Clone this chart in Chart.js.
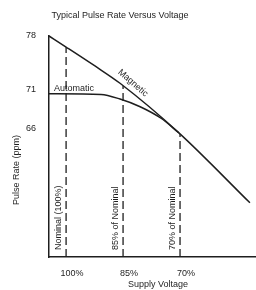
<!DOCTYPE html>
<html>
<head>
<meta charset="utf-8">
<style>
  html, body { margin: 0; padding: 0; background: #fff; }
  #chart { display: block; }
</style>
</head>
<body>
<canvas id="chart" width="256" height="290"></canvas>
<script src="https://cdn.jsdelivr.net/npm/chart.js@4/dist/chart.umd.min.js"></script>
<script>
// supply voltage in % of nominal, pulse rate in ppm
const magneticVolts = [104.5, 100.1, 92.4, 85.8, 70.3, 51.6];
const magneticRate = [78, 76.6, 74.1, 71.85, 65.4, 56.3];
const automaticVolts = [104.5, 90.8, 85.8, 80.5, 75.0, 70.3];
const automaticRate = [70.5, 70.4, 69.8, 68.8, 67.3, 65.4];
// dashed reference lines
const markVolts = [100, 85, 70];
const markRate = [76.55, 71.5, 65.25];
const markLabels = ['Nominal (100%)', '85% of Nominal', '70% of Nominal'];
// tick labels
const xTicks = [100, 85, 70];
const yTicks = [66, 71, 78];
const xMin = 50, xMax = 104.5, yMin = 49.25, yMax = 78;

const ink = '#1e1e1e';
const fontFamily = '"Liberation Sans", Arial, sans-serif';

const toPoints = (xs, ys) => xs.map((x, i) => ({ x: x, y: ys[i] }));

const lineStyle = {
  borderColor: ink,
  borderWidth: 1.5,
  pointRadius: 0,
  fill: false,
  clip: 4,
  cubicInterpolationMode: 'monotone'
};

const markSets = markVolts.map((v, i) => ({
  label: markLabels[i],
  data: [{ x: v, y: yMin }, { x: v, y: markRate[i] }],
  borderColor: ink,
  borderWidth: 1.3,
  borderDash: [8, 4],
  pointRadius: 0,
  fill: false
}));

// texts that are not axis ticks
const textPlugin = {
  id: 'texts',
  afterDatasetsDraw(chart) {
    const { ctx, scales: { x, y } } = chart;
    ctx.save();
    ctx.fillStyle = ink;
    ctx.font = '9px ' + fontFamily;
    ctx.textAlign = 'center';
    ctx.textBaseline = 'middle';
    ctx.fillText('Typical Pulse Rate Versus Voltage', 120, 16);
    ctx.fillText('Supply Voltage', 158, 285);

    ctx.save();
    ctx.translate(17, 170);
    ctx.rotate(-Math.PI / 2);
    ctx.fillText('Pulse Rate (ppm)', 0, 0);
    ctx.restore();

    ctx.textAlign = 'left';
    ctx.fillText('Automatic', 54, 89);

    ctx.save();
    ctx.translate(133, 83);
    ctx.rotate(41 * Math.PI / 180);
    ctx.textAlign = 'center';
    ctx.fillText('Magnetic', 0, 0);
    ctx.restore();

    markVolts.forEach((v, i) => {
      ctx.save();
      ctx.translate(x.getPixelForValue(v) - 8, y.bottom - 7);
      ctx.rotate(-Math.PI / 2);
      ctx.textAlign = 'left';
      ctx.fillText(markLabels[i], 0, 0);
      ctx.restore();
    });
    ctx.restore();
  }
};

new Chart(document.getElementById('chart'), {
  type: 'line',
  data: {
    datasets: [
      Object.assign({ label: 'Magnetic', data: toPoints(magneticVolts, magneticRate) }, lineStyle),
      Object.assign({ label: 'Automatic', data: toPoints(automaticVolts, automaticRate) }, lineStyle),
      ...markSets
    ]
  },
  options: {
    responsive: false,
    animation: false,
    devicePixelRatio: 1,
    layout: { padding: { top: 36, right: 0, bottom: 0, left: 0 } },
    plugins: {
      legend: { display: false },
      title: { display: false },
      tooltip: { enabled: false }
    },
    scales: {
      x: {
        type: 'linear',
        reverse: true,
        min: xMin,
        max: xMax,
        afterBuildTicks: s => { s.ticks = xTicks.map(v => ({ value: v })); },
        afterFit: s => { s.height = 33; },
        grid: { display: false, drawTicks: false },
        border: { display: true, color: ink, width: 1.5 },
        ticks: {
          padding: 11,
          labelOffset: 6,
          autoSkip: false,
          maxRotation: 0,
          color: ink,
          font: { family: fontFamily, size: 9 },
          callback: v => v + '%'
        }
      },
      y: {
        min: yMin,
        max: yMax,
        afterBuildTicks: s => { s.ticks = yTicks.map(v => ({ value: v })); },
        afterFit: s => { s.width = 49; },
        grid: { display: false, drawTicks: false },
        border: { display: true, color: ink, width: 1.5 },
        ticks: {
          padding: 13,
          color: ink,
          font: { family: fontFamily, size: 9 }
        }
      }
    }
  },
  plugins: [textPlugin]
});
</script>
</body>
</html>
